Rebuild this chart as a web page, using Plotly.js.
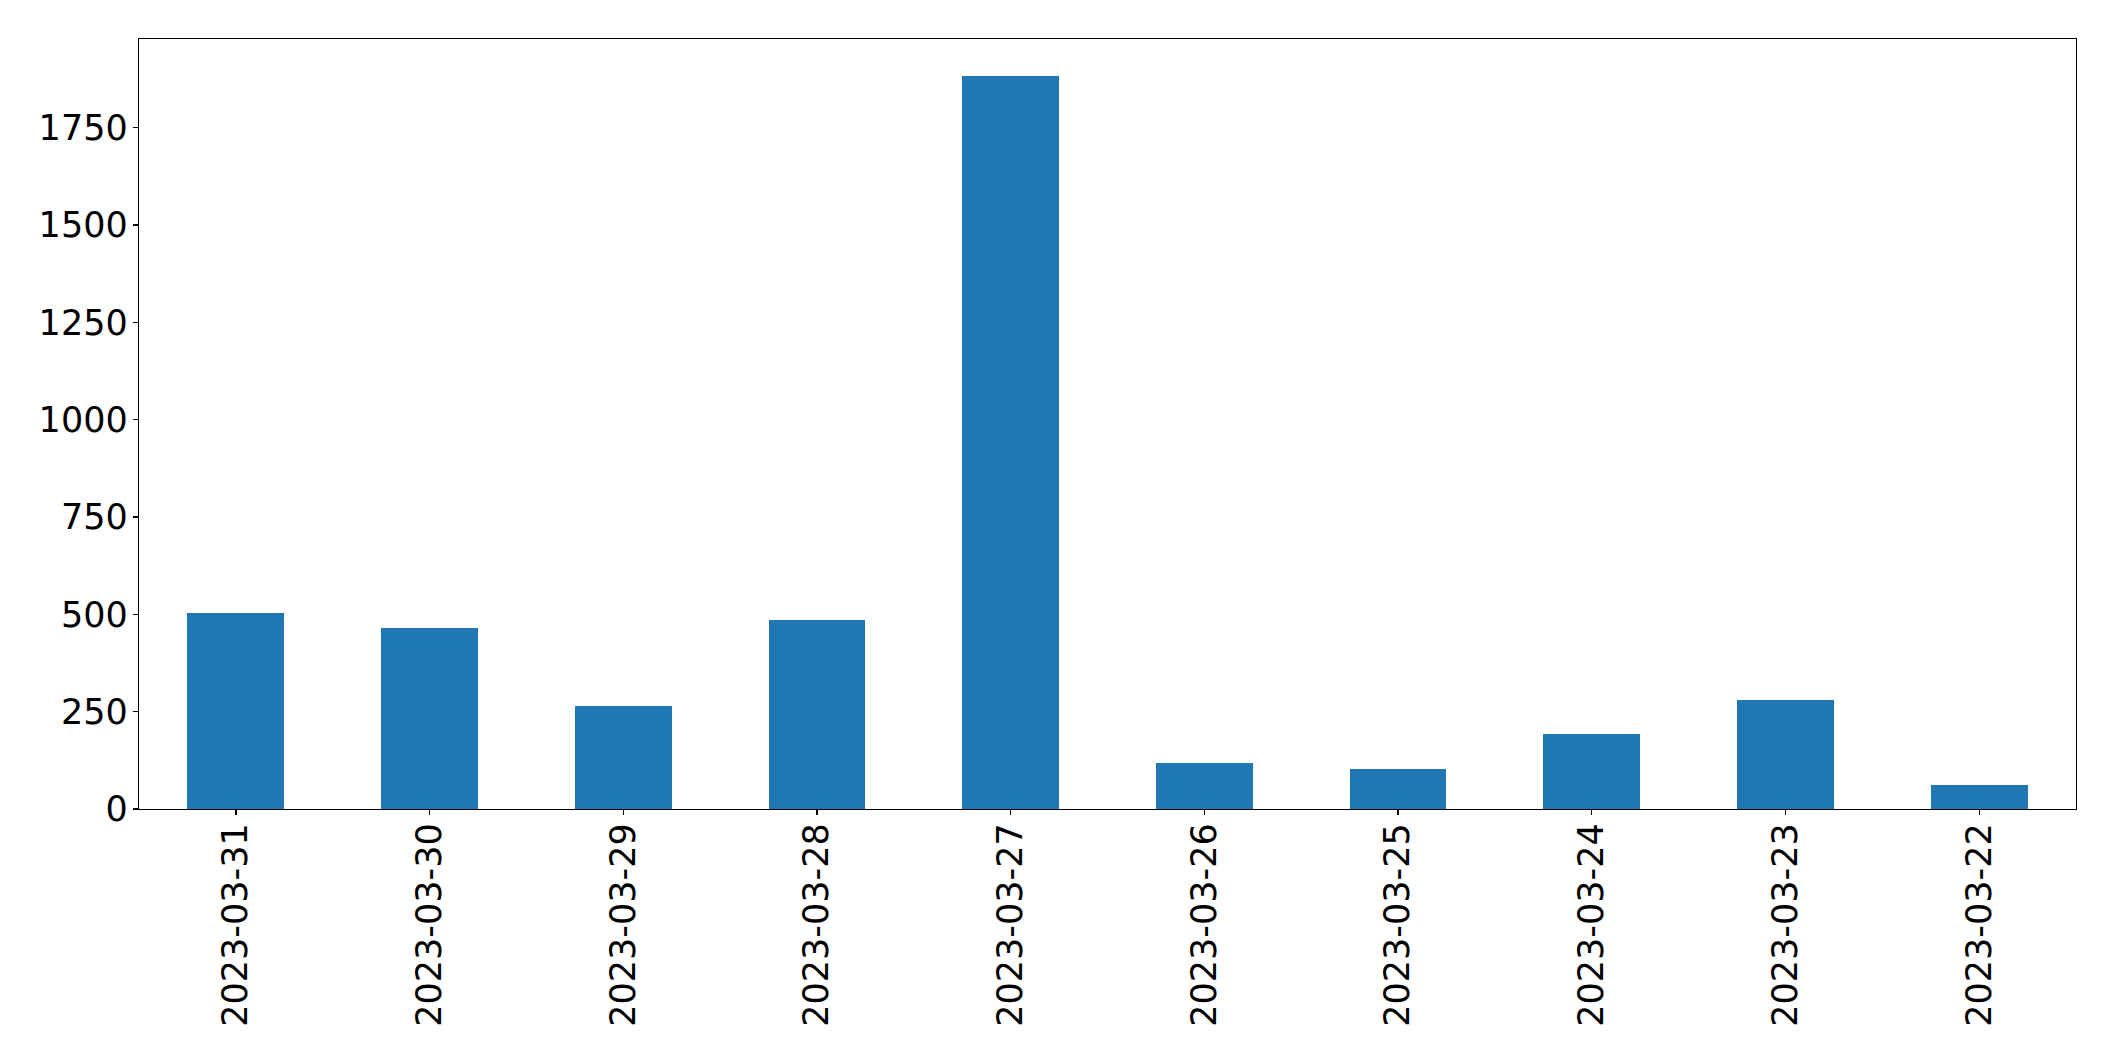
<!DOCTYPE html>
<html>
<head>
<meta charset="utf-8">
<script src="https://cdn.plot.ly/plotly-3.0.1.min.js"></script>
<style>html,body{margin:0;padding:0;background:#fff;}#chart{width:2115px;height:1061px;}</style>
</head>
<body>
<div id="chart"></div>
<script>
const dates = ["2023-03-31","2023-03-30","2023-03-29","2023-03-28","2023-03-27","2023-03-26","2023-03-25","2023-03-24","2023-03-23","2023-03-22"];
const counts = [503, 465, 265, 485, 1883, 117, 103, 193, 280, 62];
const yTicks = [0, 250, 500, 750, 1000, 1250, 1500, 1750];

const trace = {
  type: "bar",
  x: dates,
  y: counts,
  width: 0.5,
  marker: {color: "#1f77b4", line: {width: 0}},
  hoverinfo: "x+y"
};

const axisCommon = {
  showline: true, linecolor: "#000", linewidth: 1.3, mirror: true,
  ticks: "outside", ticklen: 5, tickwidth: 1.3, tickcolor: "#000",
  showgrid: false, zeroline: false,
  tickfont: {family: "DejaVu Sans", size: 35, color: "#000"}
};

const layout = {
  width: 2115, height: 1061,
  margin: {l: 139, r: 39, t: 39, b: 252},
  paper_bgcolor: "#fff", plot_bgcolor: "#fff",
  showlegend: false,
  bargap: 0,
  xaxis: Object.assign({}, axisCommon, {
    type: "category",
    range: [-0.5, dates.length - 0.5],
    tickangle: -90,
    ticklabelstandoff: -6
  }),
  yaxis: Object.assign({}, axisCommon, {
    range: [0, 1978],
    tickvals: yTicks,
    ticktext: yTicks.map(String),
    ticklabelstandoff: -2
  })
};

Plotly.newPlot("chart", [trace], layout, {displayModeBar: false, staticPlot: true});
</script>
</body>
</html>
